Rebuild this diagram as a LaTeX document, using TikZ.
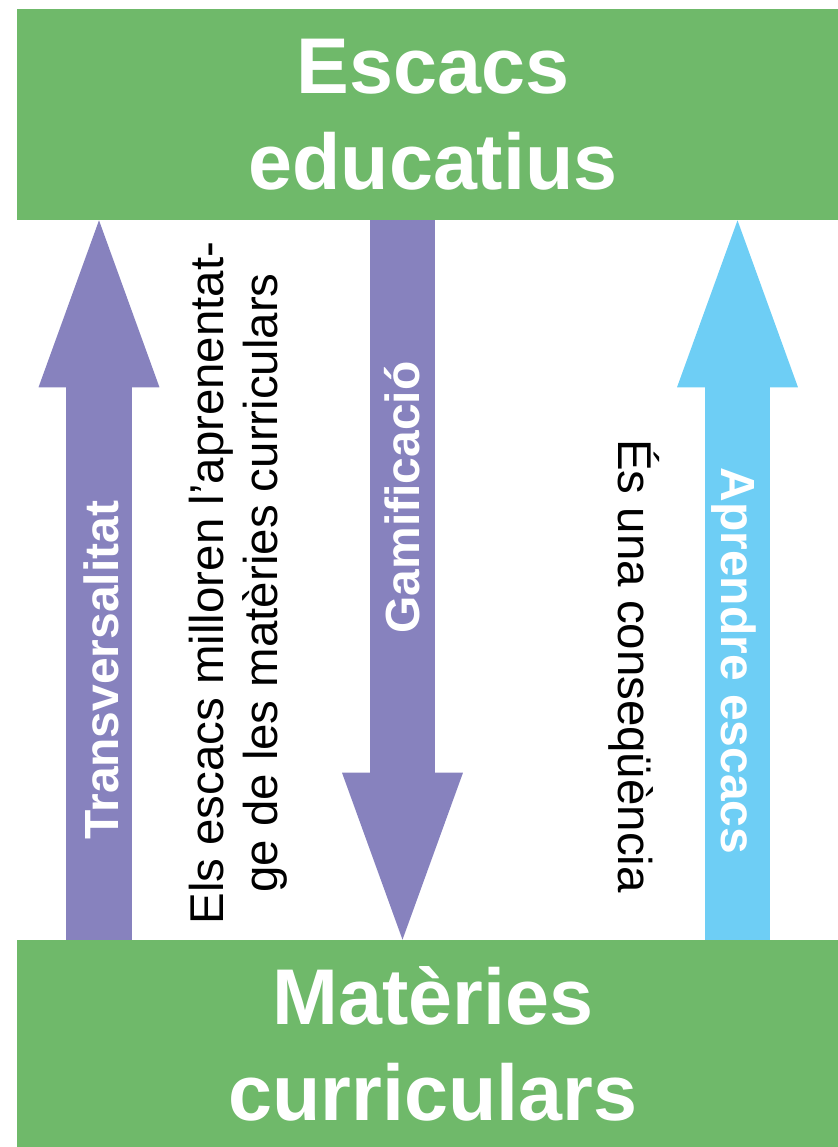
\documentclass[tikz,border=0pt]{standalone}
\usepackage{fontspec}
\setmainfont{Liberation Sans}
\usetikzlibrary{arrows.meta}
\definecolor{boxgreen}{RGB}{111,185,106}
\definecolor{arrowpurple}{RGB}{135,130,190}
\definecolor{arrowblue}{RGB}{110,206,245}

\begin{document}
\begin{tikzpicture}[x=0.02cm, y=-0.02cm,
        box_style/.style={fill=boxgreen,text=white,inner sep=0pt,minimum width=16.64cm,align=center,font=\fontsize{45}{54.6}\selectfont\bfseries},
        arrow_style/.style={line width=1.32cm,-{Triangle[length=3.34cm,width=2.42cm,line width=0pt]}},
        bold_label_style/.style={text=white,inner sep=0pt,font=\fontsize{27.3}{32}\selectfont\bfseries},
        label_style/.style={text=black,inner sep=0pt,align=center,font=\fontsize{27}{30.7}\selectfont}]

        \useasboundingbox (0,0) rectangle (838,1147);

        % boxes run past the right page edge so the titles sit a little right of the middle
        \node [box_style,minimum height=4.22cm](top) at (433,114.5) {Escacs\\educatius};

        \node [box_style,minimum height=4.14cm](bot) at (433,1043.5) {Matèries\\curriculars};

        \coordinate (x_trans) at (99,0);
        \coordinate (x_gamif) at (402.5,0);
        \coordinate (x_apren) at (737.5,0);

        \draw [arrow_style,draw=arrowpurple] (bot.north -| x_trans) -- (top.south -| x_trans);

        \draw [arrow_style,draw=arrowpurple] (top.south -| x_gamif) -- (bot.north -| x_gamif);

        \draw [arrow_style,draw=arrowblue] (bot.north -| x_apren) -- (top.south -| x_apren);

        \node [bold_label_style,rotate=90](trans) at (101,670) {Transversalitat};

        \node [bold_label_style,rotate=90](gamif) at (402,497.5) {Gamificació};

        \node [bold_label_style,rotate=-90](apren) at (734,661) {Aprendre escacs};

        \node [label_style,rotate=90](millora) at (238,583) {Els escacs milloren l’aprenentat-\\ge de les matèries curriculars};

        \node [label_style,rotate=-90](conseq) at (634,666) {És una conseqüència};

\end{tikzpicture}
\end{document}
